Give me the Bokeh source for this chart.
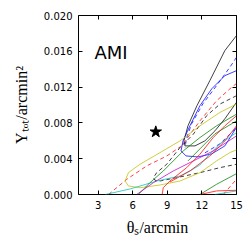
from bokeh.plotting import figure
from bokeh.models import Range1d, FixedTicker, NumeralTickFormatter, LinearAxis, Label, CustomLabelingPolicy
from bokeh.embed import file_html
from bokeh.resources import INLINE

# ---- data ----
x_ticks = [3, 6, 9, 12, 15]
x_tick_labels = ["3", "6", "9", "12", "15"]
y_ticks = [0.000, 0.004, 0.008, 0.012, 0.016, 0.020]

star_x = [8.0]
star_y = [0.0070]

black_solid_x = [15.0, 13.99, 12.69, 11.57, 10.79, 10.44, 10.53, 11.40, 12.26, 13.13, 13.99, 15.0]
black_solid_y = [0.01776, 0.01608, 0.01272, 0.00992, 0.00767, 0.00599, 0.00543, 0.00543, 0.00599, 0.00711, 0.00846, 0.01030]

blue_solid_x = [15.0, 13.99, 12.86, 11.83, 10.96, 10.36, 10.19, 10.62, 11.66, 12.86, 13.99, 15.0]
blue_solid_y = [0.01384, 0.01328, 0.01182, 0.00992, 0.00767, 0.00599, 0.00487, 0.00431, 0.00420, 0.00454, 0.00543, 0.00750]

blue_dash_x = [15.0, 14.42, 13.27, 12.09, 11.11, 10.68, 10.53]
blue_dash_y = [0.01533, 0.01421, 0.01216, 0.01014, 0.00790, 0.00633, 0.00521]

blue_dash2_x = [12.26, 13.56, 15.0]
blue_dash2_y = [0.00465, 0.00566, 0.00745]

red_dash_x = [3.90, 5.49, 7.22, 8.95, 10.24, 11.83, 13.27, 14.57, 15.0]
red_dash_y = [0.0, 0.0017, 0.0032, 0.0043, 0.00543, 0.00823, 0.01047, 0.01197, 0.0124]

red_dash2_x = [13.85, 15.0]
red_dash2_y = [0.0, 0.0017]

black_dash_x = [15.0, 13.56, 12.41, 11.25, 10.10, 8.95, 8.08, 7.79, 7.93, 8.37, 9.81, 11.83, 13.56, 15.0]
black_dash_y = [0.01104, 0.0101, 0.0088, 0.00673, 0.00524, 0.00338, 0.00244, 0.00188, 0.00159, 0.00151, 0.00188, 0.00244, 0.0030, 0.00338]

yellow_x = [15.0, 13.56, 11.83, 10.10, 8.37, 6.64, 5.63, 5.34, 5.63, 6.64, 8.37, 10.10, 11.83, 13.27, 14.42, 15.0]
yellow_y = [0.0101, 0.00917, 0.00767, 0.00599, 0.00468, 0.00338, 0.00244, 0.00151, 0.00095, 0.00076, 0.00106, 0.00151, 0.00244, 0.00375, 0.00468, 0.00499]

cyan_x = [3.62, 5.78, 8.11, 10.10, 10.96, 11.83, 12.69, 13.56, 15.0]
cyan_y = [0.0, 0.00062, 0.00151, 0.00207, 0.00263, 0.0033, 0.00454, 0.00566, 0.00692]

cyan2_x = [13.13, 15.0]
cyan2_y = [0.0, 0.0004]

green_x = [6.49, 7.5, 8.65, 10.38, 11.83, 13.27, 15.0]
green_y = [0.0, 0.00132, 0.00263, 0.00487, 0.00636, 0.00767, 0.00898]

green2_x = [10.79, 11.83, 13.13, 15.0]
green2_y = [0.00375, 0.0051, 0.00678, 0.00823]

green3_x = [11.83, 13.27, 15.0]
green3_y = [0.0, 0.00114, 0.00233]

magenta_x = [6.35, 7.79, 9.52, 11.25, 12.98, 15.0]
magenta_y = [0.0, 0.00132, 0.00263, 0.00375, 0.00487, 0.00655]

red_solid_x = [8.55, 8.65, 9.23, 10.68, 11.83, 12.98, 13.99, 15.0]
red_solid_y = [0.0, 0.00076, 0.00151, 0.0030, 0.0045, 0.00636, 0.00767, 0.0088]

red_solid2_x = [9.23, 10.96, 12.69, 13.99, 15.0]
red_solid2_y = [0.0014, 0.00263, 0.0043, 0.0060, 0.00767]

red_solid3_x = [11.83, 13.27, 15.0]
red_solid3_y = [0.0, 0.0004, 0.00047]

# ---- figure ----
p = figure(frame_width=158, frame_height=179, output_backend="svg", toolbar_location=None,
           x_range=Range1d(1.3, 15), y_range=Range1d(0, 0.020),
           min_border_left=78, min_border_right=6, min_border_top=15, min_border_bottom=50)
p.background_fill_color = "white"
p.border_fill_color = "white"
p.outline_line_color = "black"
p.outline_line_width = 1
p.xgrid.visible = False
p.ygrid.visible = False

curves = [
    (black_solid_x, black_solid_y, "#000000", "solid"),
    (blue_solid_x, blue_solid_y, "#0000ff", "solid"),
    (blue_dash_x, blue_dash_y, "#0000ff", "4 3"),
    (blue_dash2_x, blue_dash2_y, "#0000ff", "4 3"),
    (red_dash_x, red_dash_y, "#ff0000", "4 3"),
    (red_dash2_x, red_dash2_y, "#ff0000", "4 3"),
    (black_dash_x, black_dash_y, "#000000", "4 3"),
    (yellow_x, yellow_y, "#bfbf00", "solid"),
    (cyan_x, cyan_y, "#00bfbf", "solid"),
    (cyan2_x, cyan2_y, "#00bfbf", "solid"),
    (green_x, green_y, "#008000", "solid"),
    (green2_x, green2_y, "#008000", "solid"),
    (green3_x, green3_y, "#008000", "solid"),
    (magenta_x, magenta_y, "#bf00bf", "solid"),
    (red_solid_x, red_solid_y, "#ff0000", "solid"),
    (red_solid2_x, red_solid2_y, "#ff0000", "solid"),
    (red_solid3_x, red_solid3_y, "#ff0000", "solid"),
]
for xs, ys, c, d in curves:
    p.line(xs, ys, line_color=c, line_dash=d, line_width=1, line_alpha=0.75)

p.scatter(star_x, star_y, marker="star", size=12, color="black")

p.add_layout(Label(x=2.68, y=0.0159, text="AMI", text_font="DejaVu Sans",
                   text_font_size="18px", text_color="black", text_baseline="alphabetic"))

no_labels = CustomLabelingPolicy(code="""
const n = indices.size;
for (let i = 0; i < n; i++) { indices.unset(i) }
return indices
""")

def style_axis(ax, ticks, show_labels):
    ax.ticker = FixedTicker(ticks=ticks)
    ax.major_tick_in = 4
    ax.major_tick_out = 0
    ax.minor_tick_line_color = None
    ax.major_tick_line_color = "black"
    ax.axis_line_color = None
    if show_labels:
        ax.major_label_text_font = "DejaVu Sans"
        ax.major_label_text_font_size = "10px"
        ax.major_label_text_color = "black"
        ax.major_label_standoff = 6
    else:
        ax.major_label_policy = no_labels
        ax.major_label_standoff = 0

style_axis(p.xaxis[0], x_ticks, True)
p.xaxis[0].major_label_overrides = {t: s for t, s in zip(x_ticks, x_tick_labels)}
style_axis(p.yaxis[0], y_ticks, True)
p.yaxis[0].formatter = NumeralTickFormatter(format="0.000")

p.xaxis[0].axis_label = "θₛ/arcmin"
p.yaxis[0].axis_label = "Yₜₒₜ/arcmin²"
for ax in (p.xaxis[0], p.yaxis[0]):
    ax.axis_label_text_font = "Liberation Serif"
    ax.axis_label_text_font_size = "16px"
    ax.axis_label_text_font_style = "normal"
    ax.axis_label_text_color = "black"
p.xaxis[0].axis_label_standoff = 7
p.yaxis[0].axis_label_standoff = 11

top = LinearAxis()
right = LinearAxis()
style_axis(top, x_ticks, False)
style_axis(right, y_ticks, False)
p.add_layout(top, "above")
p.add_layout(right, "right")

open("out.html", "w").write(file_html(p, INLINE))
